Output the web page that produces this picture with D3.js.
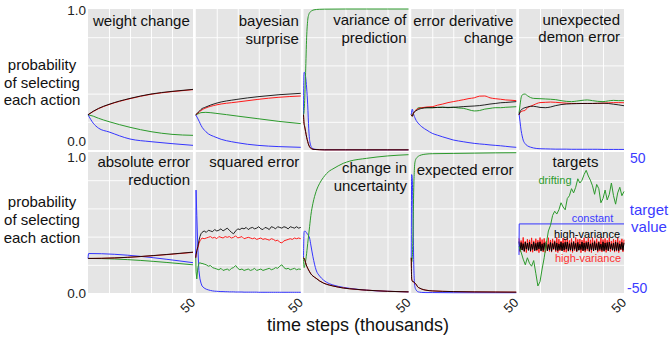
<!DOCTYPE html>
<html>
<head>
<meta charset="utf-8">
<title>action selection</title>
<script src="https://d3js.org/d3.v7.min.js"></script>
<style>
body { margin:0; background:#fff; }
svg text { font-family: "Liberation Sans", Arial, Helvetica, sans-serif; }
</style>
</head>
<body>
<svg id="chart" width="670" height="337"></svg>
<script>
// ---- data (time in thousands of steps, value = probability) ----
var weightT     = [0, 2.5, 5, 10, 20, 30, 40, 50];
var weightBlack = [.25, .275, .295, .324, .366, .397, .416, .43];
var weightRed   = [.25, .273, .293, .322, .364, .395, .414, .428];
var weightGreen = [.25, .24, .225, .201, .161, .13, .111, .104];
var weightBlue  = [.25, .19, .155, .128, .078, .059, .045, .033];

var bayesT     = [0, 1.7, 2.5, 4.8, 9.6, 19.6, 29.6, 39.6, 50];
var bayesBlack = [.25, .275, .288, .305, .331, .359, .378, .392, .402];
var bayesRed   = [.25, .27, .28, .298, .319, .34, .359, .374, .383];
var bayesGreen = [.25, .26, .265, .267, .26, .241, .222, .203, .187];
var bayesBlue  = [.25, .201, .175, .13, .09, .052, .033, .024, .019];

var varT     = [0, .25, .5, 1, 1.5, 2, 2.5, 3, 4, 5, 7.5, 10, 20, 30, 40, 50];
var varBlack = [.25, .19, .17, .13, .09, .06, .035, .02, .008, .004, .002, .001, .001, .001, .001, .001];
var varRed   = [.25, .19, .17, .13, .09, .06, .035, .02, .008, .004, .002, .001, .001, .001, .001, .001];
var varGreen = [.25, .27, .33, .55, .8, .92, .96, .975, .988, .994, .998, .999, 1, 1, 1, 1];
var varBlue  = [.25, .55, .55, .52, .44, .32, .15, .06, .015, .006, .003, .002, .002, .001, .001, .001];

var derivT     = [0, .5, 1, 2, 3.6, 5, 7.5, 10, 12.5, 15, 17.5, 20, 22.5, 25, 27.5, 30, 32.5, 35, 37.5, 40, 42.5, 45, 47.5, 50];
var derivBlack = [.25, .24, .26, .275, .289, .295, .30, .30, .302, .303, .302, .303, .305, .308, .31, .312, .315, .32, .326, .33, .335, .337, .34, .343];
var derivRed   = [.25, .24, .26, .28, .295, .30, .305, .307, .318, .326, .336, .343, .35, .357, .365, .37, .382, .383, .37, .364, .36, .355, .353, .35];
var derivGreen = [.25, .24, .26, .28, .30, .30, .30, .30, .302, .303, .30, .303, .298, .295, .285, .277, .28, .29, .295, .30, .30, .303, .305, .307];
var derivBlue  = [.25, .29, .26, .22, .185, .165, .14, .118, .105, .093, .082, .071, .064, .058, .052, .047, .043, .04, .036, .033, .03, .026, .022, .019];

var demonT     = [0, .5, 1, 1.5, 2, 2.8, 4, 5.5, 7, 10, 12.5, 15, 17.5, 20, 22.5, 25, 27.5, 30, 32.5, 35, 37.5, 40, 42.5, 45, 47.5, 50];
var demonBlack = [.25, .27, .285, .29, .295, .30, .305, .31, .31, .302, .30, .305, .315, .322, .326, .328, .329, .33, .33, .33, .331, .332, .33, .325, .32, .314];
var demonRed   = [.25, .265, .272, .276, .278, .28, .30, .31, .32, .336, .338, .34, .338, .335, .332, .33, .33, .33, .33, .33, .331, .332, .334, .336, .336, .335];
var demonGreen = [.26, .32, .37, .39, .395, .397, .385, .372, .366, .364, .362, .36, .357, .35, .345, .343, .347, .352, .355, .35, .345, .343, .348, .352, .35, .35];
var demonBlue  = [.26, .2, .14, .1, .07, .047, .03, .02, .014, .009, .008, .007, .006, .006, .006, .005, .005, .005, .005, .005, .005, .004, .004, .004, .004, .004];

var absT     = [0, .3, 50];
var absBlack = [.245, .245, .29];
var absRed   = [.245, .245, .288];
var absGreen = [.245, .245, .20];
var absBlue  = [.245, .28, .215];

var sqT = [0, .15, .5, 1, 1.5, 2, 2.5, 3, 4, 5, 6, 7, 8, 9, 10, 11, 12, 13, 14, 15, 16, 17, 18, 19, 20,
  21, 22, 23, 24, 25, 26, 27, 28, 29, 30, 31, 32, 33, 34, 35, 36, 37, 38, 39, 40, 41, 42, 43, 44, 45, 46, 47, 48, 49, 50];
var sqBlack = [.25, .27, .3, .33, .37, .40, .42, .43,
  .44, .43, .445, .44, .435, .45, .44, .445, .455, .44,
  .45, .46, .445, .43, .42, .44, .455, .45, .46, .455,
  .465, .45, .46, .465, .455, .46, .47, .455, .45, .465,
  .46, .45, .47, .465, .455, .47, .465, .46, .47, .465,
  .455, .47, .465, .46, .47, .46, .465];
var sqRed = [.25, .27, .30, .32, .35, .37, .38, .39,
  .385, .39, .395, .40, .39, .395, .385, .40, .395, .39,
  .40, .395, .40, .39, .395, .405, .39, .395, .40, .385,
  .39, .395, .39, .385, .39, .38, .385, .39, .38, .385,
  .38, .375, .385, .38, .37, .375, .36, .355, .37, .375,
  .38, .385, .38, .39, .385, .39, .385];
var sqGreen = [.25, .15, .10, .18, .21, .215, .21, .21,
  .205, .20, .19, .195, .18, .175, .17, .165, .175, .16,
  .165, .17, .16, .175, .18, .195, .175, .165, .17, .16,
  .165, .17, .16, .165, .175, .16, .165, .17, .16, .165,
  .17, .175, .165, .17, .18, .175, .19, .2, .18, .17,
  .175, .165, .17, .175, .165, .17, .168];
var sqBlue = [.25, .73, .55, .32, .16, .10, .07, .05,
  .035, .027, .022, .018, .015, .013, .012, .011, .01, .01,
  .009, .009, .008, .008, .008, .007, .007, .007, .007, .006,
  .006, .006, .006, .006, .006, .006, .005, .005, .005, .005,
  .005, .005, .005, .005, .005, .005, .005, .005, .005, .005,
  .005, .005, .005, .005, .005, .005, .005];

var uncT     = [0, .3, .7, 1.3, 2, 2.9, 3.5, 4.5, 6, 7.7, 9.5, 12.5, 14, 19, 22, 30, 40, 50];
var uncBlack = [.25, .246, .23, .2, .175, .15, .135, .12, .104, .085, .07, .055, .05, .035, .03, .02, .012, .008];
var uncRed   = [.25, .246, .23, .2, .176, .152, .137, .121, .105, .086, .071, .056, .05, .036, .03, .02, .012, .008];
var uncGreen = [.25, .18, .2, .257, .35, .47, .55, .636, .72, .778, .82, .867, .88, .92, .935, .955, .972, .981];
var uncBlue  = [.25, .435, .44, .43, .415, .39, .34, .257, .163, .12, .092, .065, .057, .04, .033, .02, .012, .008];

var expT     = [0, .2, .5, .8, 1.2, 1.5, 1.8, 2.4, 3, 4, 5, 7, 10, 20, 30, 40, 50];
var expBlack = [.25, .1, .085, .08, .08, .075, .07, .06, .045, .035, .028, .02, .015, .01, .008, .007, .006];
var expRed   = [.25, .1, .085, .08, .078, .073, .068, .058, .044, .034, .027, .02, .015, .01, .008, .007, .006];
var expGreen = [.25, .22, .25, .4, .75, .88, .93, .955, .965, .975, .98, .985, .988, .99, .992, .994, .995];
var expBlue  = [.25, .84, .8, .6, .2, .08, .04, .02, .01, .006, .004, .003, .003, .002, .002, .002, .002];

// targets panel (target value, -50..50)
var constT    = [0, .1, 50];
var constVals = [-23, -1, -1];
var driftStep = 1;
var driftVals = [-17, -21, -26, -30, -25, -29, -31, -27, -36, -45, -42, -33, -25, -15, -6, -2, 5, 8, 6, 9,
  14, 11, 9, 17, 19, 24, 21, 25, 31, 28, 30, 34, 37, 33, 30, 26, 20, 27, 24, 14,
  17, 23, 16, 20, 28, 19, 13, 21, 25, 19, 22];
var noiseStep = 0.5;
var noiseBlack = [-13.5,-20.1,-14.2,-19.6,-15.0,-20.4,-13.8,-18.9,-14.6,-19.8,
  -14.0,-20.2,-15.3,-19.1,-13.9,-20.0,-14.8,-19.5,-14.1,-18.7,
  -13.7,-20.3,-15.1,-19.9,-14.4,-19.2,-13.8,-20.1,-15.6,-19.4,
  -14.2,-20.4,-14.9,-18.8,-13.6,-19.7,-14.5,-20.0,-15.2,-19.3,
  -13.9,-20.2,-14.7,-19.6,-14.0,-18.9,-13.8,-20.3,-15.0,-19.5,
  -14.3,-20.1,-13.7,-19.0,-14.8,-20.4,-14.1,-19.7,-15.4,-19.2,
  -13.8,-20.0,-14.6,-19.8,-14.2,-18.7,-13.9,-20.3,-15.1,-19.4,
  -14.4,-20.2,-13.6,-19.5,-14.9,-20.0,-14.0,-19.1,-15.3,-19.9,
  -13.7,-20.4,-14.5,-19.3,-14.2,-20.1,-13.9,-18.8,-15.0,-19.6,
  -14.6,-20.2,-13.8,-19.7,-14.3,-20.0,-15.2,-19.0,-14.1,-19.8,-14.4];
var noiseRed = [-11.2,-21.0,-12.8,-19.5,-10.6,-20.6,-13.4,-21.3,-11.9,-18.9,
  -12.3,-20.8,-10.9,-21.1,-13.0,-19.8,-11.5,-20.3,-12.6,-21.4,
  -10.7,-19.6,-12.1,-20.9,-11.3,-21.2,-13.2,-19.9,-10.8,-20.5,
  -12.4,-21.0,-11.6,-19.4,-12.9,-20.7,-10.5,-21.3,-11.8,-20.1,
  -13.1,-19.7,-11.0,-20.9,-12.2,-21.1,-10.9,-19.8,-12.7,-20.4,
  -11.4,-21.2,-13.3,-20.0,-10.6,-20.8,-12.0,-19.5,-11.7,-21.4,
  -12.5,-20.2,-10.8,-21.0,-13.0,-19.9,-11.1,-20.6,-12.3,-21.3,
  -10.7,-20.1,-12.8,-19.6,-11.5,-21.1,-13.4,-20.3,-10.9,-20.9,
  -12.1,-19.7,-11.3,-21.2,-12.6,-20.0,-10.6,-20.7,-13.1,-19.8,
  -11.8,-21.0,-12.4,-20.4,-11.0,-21.3,-12.9,-19.5,-11.6,-20.8,-12.2];

// ---- layout ----
var svg = d3.select("#chart");
var left0 = 88, colStep = 107.75, pw = 105, ph = 141;
var rowTop = [9, 152];
var C = { black: "#000000", red: "#ff1a1a", green: "#2c9a2c", blue: "#3535ff" };
var axisBlue = "#3b3bff";

var panels = [
  { r:0, c:0, t:weightT, s:[weightBlue, weightGreen, weightRed, weightBlack], title:["weight change"], al:"start", dx:5, by:[16.5] },
  { r:0, c:1, t:bayesT, s:[bayesBlue, bayesGreen, bayesRed, bayesBlack], title:["bayesian","surprise"], al:"end", dx:-2, by:[16.5, 34.5] },
  { r:0, c:2, t:varT, s:[varBlue, varGreen, varRed, varBlack], title:["variance of","prediction"], al:"end", dx:-2, by:[16, 33.5] },
  { r:0, c:3, t:derivT, s:[derivBlue, derivGreen, derivRed, derivBlack], title:["error derivative","change"], al:"end", dx:-3, by:[16.5, 34] },
  { r:0, c:4, t:demonT, s:[demonBlue, demonGreen, demonRed, demonBlack], title:["unexpected","demon error"], al:"end", dx:-4, by:[16, 33] },
  { r:1, c:0, t:absT, s:[absBlue, absGreen, absRed, absBlack], title:["absolute error","reduction"], al:"end", dx:-3, by:[15, 33] },
  { r:1, c:1, t:sqT, s:[sqBlue, sqGreen, sqRed, sqBlack], title:["squared error"], al:"end", dx:-1.5, by:[15], jagged:true },
  { r:1, c:2, t:uncT, s:[uncBlue, uncGreen, uncRed, uncBlack], title:["change in","uncertainty"], al:"end", dx:-1.5, by:[20.5, 38.5] },
  { r:1, c:3, t:expT, s:[expBlue, expGreen, expRed, expBlack], title:["expected error"], al:"start", dx:5.5, by:[23] },
  { r:1, c:4, targets:true, title:["targets"], al:"middle", dx:4, by:[15] }
];
var order = ["blue", "green", "red", "black"];

var x = d3.scaleLinear().domain([0, 50]).range([0, pw]);
var y = d3.scaleLinear().domain([0, 1]).range([ph, 0]);
var yT = d3.scaleLinear().domain([-50, 50]).range([ph, 0]);

var line = d3.line().x(function(d){ return x(d[0]); }).y(function(d){ return y(d[1]); }).curve(d3.curveMonotoneX);
var lineJ = d3.line().x(function(d){ return x(d[0]); }).y(function(d){ return y(d[1]); });
var lineT = d3.line().x(function(d){ return x(d[0]); }).y(function(d){ return yT(d[1]); });

function zip(t, v) { return v.map(function(val, i){ return [t[i], val]; }); }
function stepped(step, v) { return v.map(function(val, i){ return [i * step, val]; }); }

panels.forEach(function(p) {
  var x0 = left0 + p.c * colStep, y0 = rowTop[p.r];
  var g = svg.append("g").attr("transform", "translate(" + x0 + "," + y0 + ")");
  g.append("rect").attr("width", pw).attr("height", ph).attr("fill", "#e5e5e5");

  // grid
  g.append("g").attr("transform", "translate(0," + ph + ")")
    .call(d3.axisBottom(x).tickValues([10, 20, 30, 40]).tickSize(-ph).tickFormat(""))
    .call(function(a){ a.select(".domain").remove(); a.selectAll("line").attr("stroke", "#fff").attr("stroke-width", 0.9); });
  g.append("g")
    .call(d3.axisLeft(y).tickValues([.2, .4, .6, .8]).tickSize(-pw).tickFormat(""))
    .call(function(a){ a.select(".domain").remove(); a.selectAll("line").attr("stroke", "#fff").attr("stroke-width", 0.9); });

  if (p.targets) {
    g.append("path").attr("d", lineT(stepped(noiseStep, noiseRed))).attr("fill", "none").attr("stroke", C.red).attr("stroke-width", 1);
    g.append("path").attr("d", lineT(stepped(noiseStep, noiseBlack))).attr("fill", "none").attr("stroke", C.black).attr("stroke-width", 1);
    g.append("path").attr("d", lineT(zip(constT, constVals))).attr("fill", "none").attr("stroke", C.blue).attr("stroke-width", 1);
    g.append("path").attr("d", lineT(stepped(driftStep, driftVals))).attr("fill", "none").attr("stroke", C.green).attr("stroke-width", 1);
    var lab = [["drifting", C.green, 36, 32], ["constant", axisBlue, 73.5, 70], ["high-variance", "#000", 68, 86], ["high-variance", "#ff3030", 69, 110]];
    lab.forEach(function(l) {
      g.append("text").attr("x", l[2]).attr("y", l[3]).attr("text-anchor", "middle")
        .attr("font-size", 11).attr("fill", l[1]).text(l[0]);
    });
  } else {
    var gen = p.jagged ? lineJ : line;
    p.s.forEach(function(vals, i) {
      g.append("path").attr("d", gen(zip(p.t, vals))).attr("fill", "none")
        .attr("stroke", C[order[i]]).attr("stroke-width", 1)
        .attr("stroke-opacity", order[i] === "black" ? 0.85 : 1);
    });
  }

  // title
  var tx = p.al === "start" ? p.dx : (p.al === "end" ? pw + p.dx : pw / 2 + p.dx);
  p.title.forEach(function(s, i) {
    g.append("text").attr("x", tx).attr("y", p.by[i]).attr("text-anchor", p.al)
      .attr("font-size", 15).attr("fill", "#111").text(s);
  });

  // "50" tick label on bottom row
  if (p.r === 1) {
    svg.append("text").attr("transform", "translate(" + (x0 + x(50) + 3) + ",303.5) rotate(-45)")
      .attr("text-anchor", "end").attr("font-size", 13).attr("fill", "#222").text("50");
  }
});

// y tick labels and titles per row
var tickPos = [[15, 146], [161.5, 298]];
var titleBase = [[70, 87.5, 105], [207, 225, 243]];
var ylab = ["probability", "of selecting", "each action"];
[0, 1].forEach(function(r) {
  svg.append("text").attr("x", 86).attr("y", tickPos[r][0]).attr("text-anchor", "end").attr("font-size", 13.5).attr("fill", "#222").text(d3.format(".1f")(1));
  svg.append("text").attr("x", 86).attr("y", tickPos[r][1]).attr("text-anchor", "end").attr("font-size", 13.5).attr("fill", "#222").text(d3.format(".1f")(0));
  ylab.forEach(function(s, i) {
    svg.append("text").attr("x", 42).attr("y", titleBase[r][i]).attr("text-anchor", "middle").attr("font-size", 15).attr("fill", "#111").text(s);
  });
});

// right axis for targets
svg.append("text").attr("x", 630).attr("y", 163).attr("font-size", 14).attr("fill", axisBlue).text("50");
svg.append("text").attr("x", 627).attr("y", 293).attr("font-size", 14).attr("fill", axisBlue).text("-50");
svg.append("text").attr("x", 649).attr("y", 215).attr("text-anchor", "middle").attr("font-size", 15).attr("fill", axisBlue).text("target");
svg.append("text").attr("x", 649).attr("y", 232).attr("text-anchor", "middle").attr("font-size", 15).attr("fill", axisBlue).text("value");

// x axis title
svg.append("text").attr("x", 358).attr("y", 331).attr("text-anchor", "middle").attr("font-size", 18).attr("fill", "#111").text("time steps (thousands)");
</script>
</body>
</html>
